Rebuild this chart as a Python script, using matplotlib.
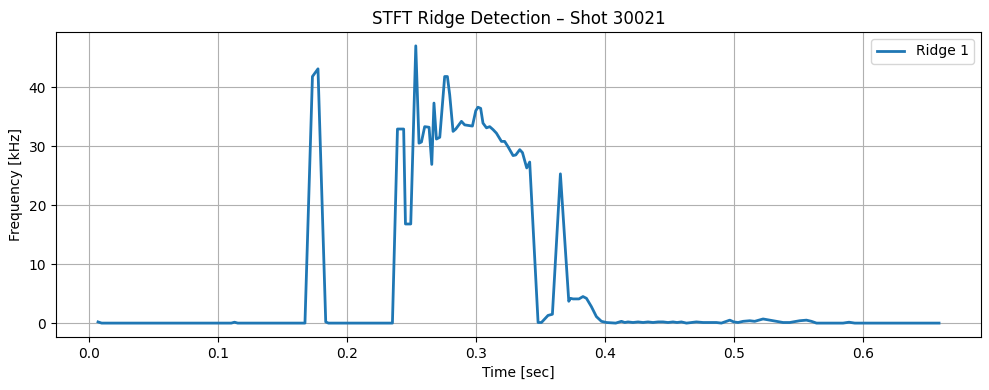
import matplotlib
matplotlib.use('Agg')
import matplotlib.pyplot as plt

# ridge vertices (time in s, frequency in kHz)
time_s = [0.0067, 0.0095, 0.1100, 0.1125, 0.1150, 0.1671, 0.1729, 0.1772, 0.1832, 0.1853,
          0.2349, 0.2388, 0.2436, 0.2450, 0.2491, 0.2530, 0.2555, 0.2574, 0.2599, 0.2633,
          0.2654, 0.2671, 0.2690, 0.2716, 0.2754, 0.2775, 0.2793, 0.2819, 0.2840, 0.2884,
          0.2909, 0.2969, 0.2995, 0.3012, 0.3033, 0.3051, 0.3078, 0.3103, 0.3129, 0.3155,
          0.3194, 0.3219, 0.3245, 0.3284, 0.3305, 0.3336, 0.3357, 0.3390, 0.3413, 0.3478,
          0.3504, 0.3555, 0.3589, 0.3651, 0.3716, 0.3729, 0.3749, 0.3795, 0.3826, 0.3853,
          0.3891, 0.3930, 0.3969, 0.4008, 0.4080, 0.4124, 0.4150, 0.4175, 0.4214, 0.4253,
          0.4292, 0.4330, 0.4369, 0.4408, 0.4447, 0.4485, 0.4524, 0.4555, 0.4589, 0.4628,
          0.4667, 0.4705, 0.4757, 0.4809, 0.4860, 0.4899, 0.4925, 0.4964, 0.4995, 0.5028,
          0.5067, 0.5119, 0.5157, 0.5222, 0.5274, 0.5326, 0.5377, 0.5429, 0.5454, 0.5506,
          0.5558, 0.5597, 0.5636, 0.5842, 0.5888, 0.5933, 0.6586]
freq_khz = [0.2, 0.0, 0.0, 0.15, 0.0, 0.0, 41.8, 43.1, 0.2, 0.0,
            0.0, 32.9, 32.9, 16.8, 16.8, 47.0, 30.5, 30.7, 33.3, 33.2,
            26.9, 37.3, 31.2, 31.5, 41.8, 41.8, 38.7, 32.5, 32.9, 34.2,
            33.6, 33.4, 36.0, 36.6, 36.4, 33.9, 33.1, 33.3, 32.8, 32.2,
            30.8, 30.8, 29.9, 28.4, 28.5, 29.4, 28.9, 26.3, 27.3, 0.1,
            0.1, 1.3, 1.5, 25.3, 3.7, 4.2, 4.1, 4.1, 4.5, 4.2,
            2.8, 1.1, 0.3, 0.1, 0.0, 0.3, 0.1, 0.2, 0.1, 0.2,
            0.1, 0.2, 0.1, 0.2, 0.2, 0.1, 0.2, 0.1, 0.2, 0.0,
            0.1, 0.2, 0.1, 0.1, 0.1, 0.0, 0.2, 0.5, 0.2, 0.1,
            0.3, 0.4, 0.3, 0.7, 0.5, 0.3, 0.1, 0.1, 0.2, 0.4,
            0.5, 0.3, 0.0, 0.0, 0.15, 0.0, 0.0]

fig, ax = plt.subplots(figsize=(9.89, 3.9), dpi=100)
ax.plot(time_s, freq_khz, color='#1f77b4', linewidth=2, label='Ridge 1')
ax.set_title('STFT Ridge Detection \u2013 Shot 30021')
ax.set_xlabel('Time [sec]')
ax.set_ylabel('Frequency [kHz]')
ax.grid(True)
ax.legend(loc='upper right')
fig.subplots_adjust(left=0.0566, right=0.992, top=0.918, bottom=0.136)
plt.savefig('out.png', dpi=100)
